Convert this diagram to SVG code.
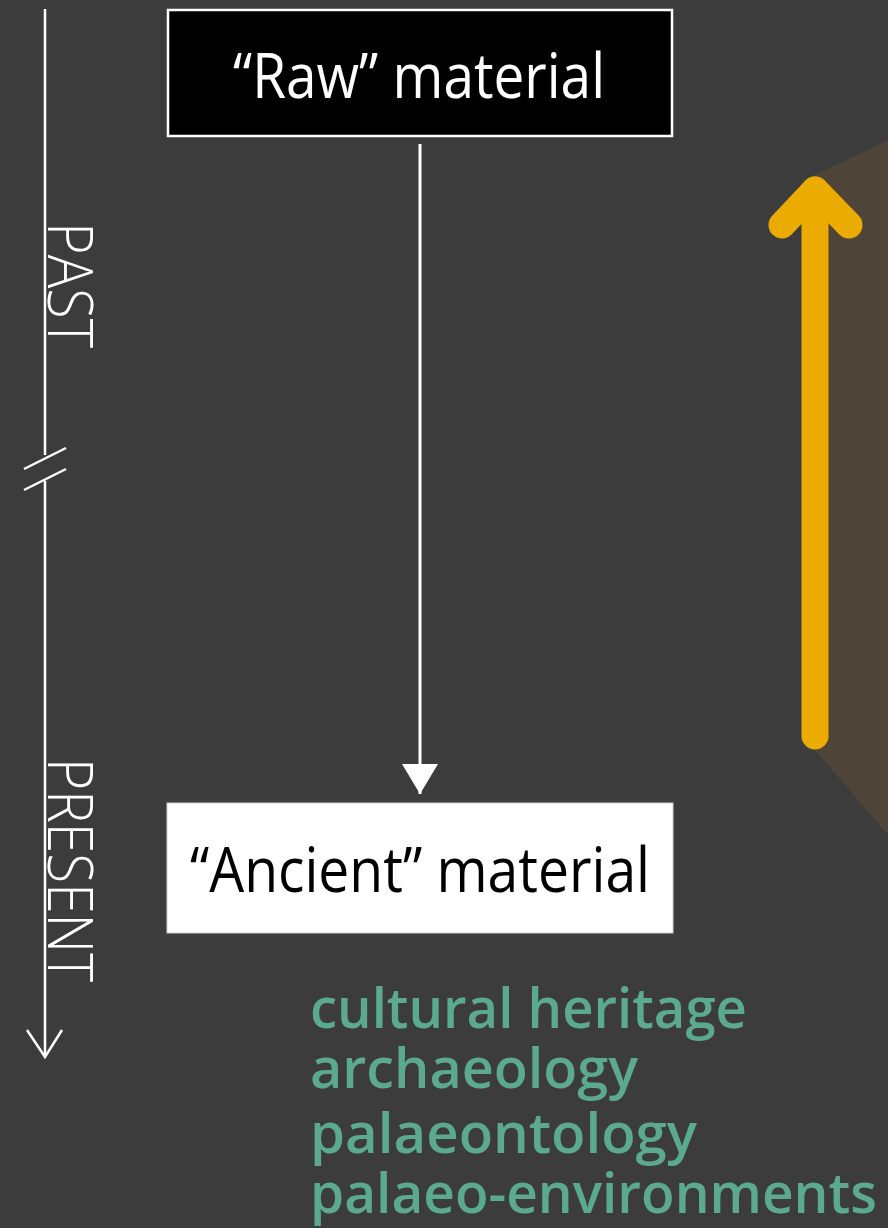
<svg xmlns="http://www.w3.org/2000/svg" width="888" height="1228" viewBox="0 0 888 1228">
  <style>
    .axis { stroke: #ffffff; stroke-width: 2.5; fill: none; stroke-linecap: butt; }
    .era { font-family: "Open Sans", "Liberation Sans", sans-serif; font-weight: 300; font-size: 63px; fill: #ffffff; }
    .label { font-family: "Open Sans", "Liberation Sans", sans-serif; font-weight: 400; font-size: 62px; }
    .field { font-family: "Open Sans", "Liberation Sans", sans-serif; font-weight: 600; font-size: 56px; fill: #5BAA8F; }
    .conn { stroke: #ffffff; stroke-width: 3; fill: none; }
  </style>
  <defs>
    <marker id="tri" viewBox="0 0 30 36" refX="30" refY="18" markerWidth="30" markerHeight="36" markerUnits="userSpaceOnUse" orient="auto">
      <path d="M0 0 L30 18 L0 36 Z" fill="#ffffff"/>
    </marker>
  </defs>

  <rect x="0" y="0" width="888" height="1228" fill="#3c3c3c"/>

  <!-- timeline axis with break -->
  <g id="timeline">
    <line class="axis" x1="45" y1="9" x2="45" y2="455"/>
    <line class="axis" x1="45" y1="481" x2="45" y2="1057"/>
    <line class="axis" x1="24" y1="469" x2="66" y2="448"/>
    <line class="axis" x1="24" y1="490" x2="66" y2="469"/>
    <polyline class="axis" points="27,1030 45,1057 62,1030" stroke-linejoin="miter"/>
    <text class="era" transform="translate(48,222) rotate(90)" textLength="126" lengthAdjust="spacingAndGlyphs">PAST</text>
    <text class="era" transform="translate(48,758) rotate(90)" textLength="224" lengthAdjust="spacingAndGlyphs">PRESENT</text>
  </g>

  <!-- shaded projection behind the arrow -->
  <g id="projection">
    <polygon points="815,175 888,140 888,835 815,750" fill="#4e4437"/>
    <g fill="none" stroke="#EBAB00" stroke-width="27" stroke-linecap="round" stroke-linejoin="round">
      <line x1="815" y1="190" x2="815" y2="736"/>
      <polyline points="782,225 815,190 849,225"/>
    </g>
  </g>

  <g id="raw-material">
    <rect x="168" y="10" width="504" height="126" fill="#000000" stroke="#ffffff" stroke-width="2.5"/>
    <text class="label" x="233" y="98" fill="#ffffff" textLength="372" lengthAdjust="spacingAndGlyphs">“Raw” material</text>
  </g>

  <g id="ancient-material">
    <rect x="167" y="803" width="506" height="130" fill="#ffffff" stroke="#cfcfcf" stroke-width="1"/>
    <text class="label" x="190" y="892" fill="#000000" textLength="460" lengthAdjust="spacingAndGlyphs">“Ancient” material</text>
  </g>

  <g id="connectors">
    <line class="conn" x1="420" y1="144" x2="420" y2="794" marker-end="url(#tri)"/>
  </g>

  <g id="fields">
    <text class="field" x="310" y="1028" textLength="437" lengthAdjust="spacingAndGlyphs">cultural heritage</text>
    <text class="field" x="310" y="1088" textLength="328" lengthAdjust="spacingAndGlyphs">archaeology</text>
    <text class="field" x="310" y="1153" textLength="387" lengthAdjust="spacingAndGlyphs">palaeontology</text>
    <text class="field" x="310" y="1213" textLength="567" lengthAdjust="spacingAndGlyphs">palaeo-environments</text>
  </g>
</svg>
